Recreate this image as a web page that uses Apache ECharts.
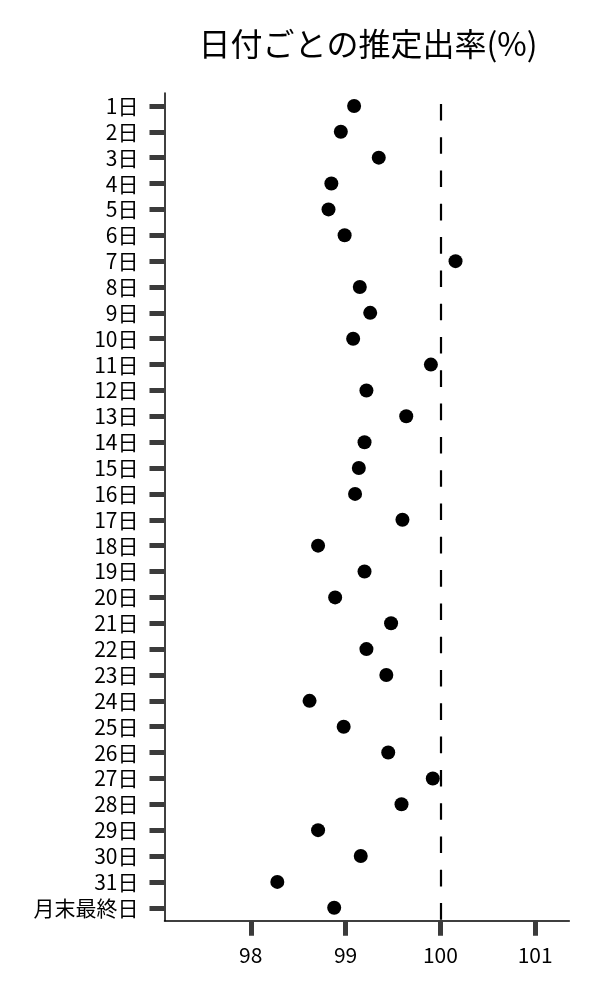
<!DOCTYPE html>
<html>
<head>
<meta charset="utf-8">
<script src="https://cdn.jsdelivr.net/npm/echarts@6/dist/echarts.min.js"></script>
<style>
html,body{margin:0;padding:0;background:#fff;}
#chart{width:600px;height:1000px;}
</style>
</head>
<body>
<div id="chart"></div>
<script>
const titleText = '日付ごとの推定出率(%)';
const categories = ['1日','2日','3日','4日','5日','6日','7日','8日','9日','10日',
  '11日','12日','13日','14日','15日','16日','17日','18日','19日','20日',
  '21日','22日','23日','24日','25日','26日','27日','28日','29日','30日','31日','月末最終日'];
const rates = [99.09, 98.95, 99.35, 98.85, 98.82, 98.99, 100.16, 99.15, 99.26, 99.08,
  99.90, 99.22, 99.64, 99.20, 99.14, 99.10, 99.60, 98.71, 99.20, 98.89,
  99.48, 99.22, 99.43, 98.62, 98.98, 99.45, 99.92, 99.59, 98.71, 99.16, 98.28, 98.88];
const xTicks = [98, 99, 100, 101];
const referenceValue = 100;
const xMin = 97.09;
const xMax = 101.36;

const font = "'Noto Sans CJK JP', 'Noto Sans', sans-serif";
const chart = echarts.init(document.getElementById('chart'), null, {renderer: 'canvas'});
chart.setOption({
  animation: false,
  backgroundColor: '#ffffff',
  title: {
    text: titleText,
    left: 363,
    textAlign: 'center',
    top: 23,
    textStyle: {fontFamily: font, fontSize: 32, fontWeight: 'normal', color: '#000'}
  },
  grid: {left: 164.5, right: 30.7, top: 93, bottom: 79.3, containLabel: false},
  xAxis: {
    type: 'value',
    min: xMin,
    max: xMax,
    axisLine: {show: true, lineStyle: {color: '#000', width: 1.5}},
    axisTick: {show: true, length: 15, customValues: xTicks, lineStyle: {color: '#3b3b3b', width: 5}},
    axisLabel: {show: true, customValues: xTicks, margin: 24, fontFamily: font, fontSize: 21, color: '#000'},
    splitLine: {show: false}
  },
  yAxis: {
    type: 'category',
    data: categories,
    inverse: true,
    boundaryGap: true,
    axisLine: {show: true, lineStyle: {color: '#000', width: 1.5}},
    axisTick: {show: true, alignWithLabel: true, length: 15, lineStyle: {color: '#3b3b3b', width: 5}},
    axisLabel: {show: true, interval: 0, margin: 26, fontFamily: font, fontSize: 21, color: '#000'},
    splitLine: {show: false}
  },
  series: [{
    type: 'scatter',
    data: rates.map((v, i) => [v, categories[i]]),
    symbol: 'circle',
    symbolSize: 14,
    itemStyle: {color: '#000', opacity: 1},
    markLine: {
      silent: true,
      symbol: ['none', 'none'],
      label: {show: false},
      lineStyle: {color: '#000', width: 2.2, type: [16.6, 16.7], dashOffset: 22.4, opacity: 1},
      data: [{xAxis: referenceValue}]
    }
  }]
});
</script>
</body>
</html>
